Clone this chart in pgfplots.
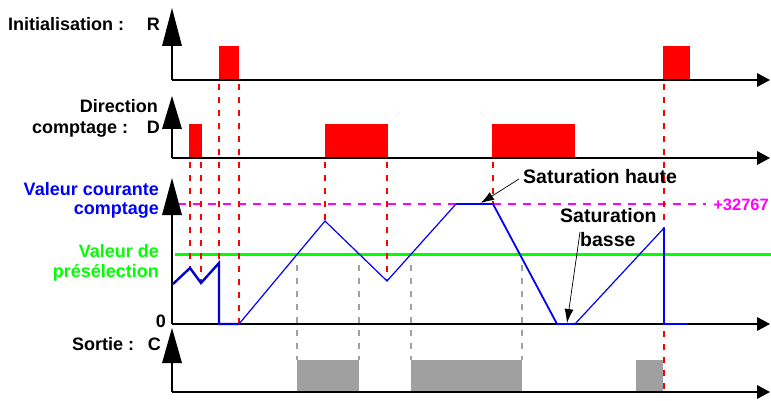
\documentclass[border=0pt]{standalone}
\usepackage{pgfplots}
\pgfplotsset{compat=1.18}
\usetikzlibrary{arrows.meta}
\usepackage{fontspec}
\setmainfont{Liberation Sans}
\definecolor{vert}{RGB}{0,255,0}
\definecolor{gris}{RGB}{160,160,160}
\definecolor{mag}{RGB}{255,0,255}
\definecolor{bleu}{RGB}{0,0,255}
\definecolor{bleuf}{RGB}{0,0,210}
\newcommand\lab{\fontsize{18}{20}\selectfont\bfseries}
\newcommand\labs{\fontsize{19.5}{22}\selectfont\bfseries}
\begin{document}
\begin{tikzpicture}
\begin{axis}[
  scale only axis, width=771pt, height=401pt,
  xmin=0, xmax=771, ymin=0, ymax=401, y dir=reverse,
  hide axis, clip=false,
  reddot/.style={red, line width=2.6pt, dash pattern=on 6pt off 7pt},
  greydot/.style={gris, line width=2.6pt, dash pattern=on 6pt off 7pt},
  ax/.style={black, line width=1.8pt},
  head/.style={fill=black, draw=none},
]
% ---- pulses R
\addplot[fill=red, draw=none] coordinates {(219,80)(219,46)(239,46)(239,80)};
\addplot[fill=red, draw=none] coordinates {(663,80)(663,46)(690,46)(690,80)};
% ---- pulses D
\addplot[fill=red, draw=none] coordinates {(189,158)(189,124)(202,124)(202,158)};
\addplot[fill=red, draw=none] coordinates {(325,158)(325,124)(388,124)(388,158)};
\addplot[fill=red, draw=none] coordinates {(492,158)(492,124)(575,124)(575,158)};
% ---- pulses C
\addplot[fill=gris, draw=none] coordinates {(297,392)(297,360)(359,360)(359,392)};
\addplot[fill=gris, draw=none] coordinates {(411,392)(411,360)(522,360)(522,392)};
\addplot[fill=gris, draw=none] coordinates {(636,392)(636,360)(663,360)(663,392)};
% ---- reference lines
\addplot[vert, line width=3pt] coordinates {(175,254)(771,254)};
\addplot[mag, line width=1.4pt, dash pattern=on 8pt off 7pt] coordinates {(178,204)(706,204)};
% ---- axes
\addplot[ax] coordinates {(172,80)(172,40)};
\addplot[ax] coordinates {(172,80)(760,80)};
\addplot[ax] coordinates {(172,158)(172,125)};
\addplot[ax] coordinates {(172,158)(760,158)};
\addplot[ax] coordinates {(172,324)(172,210)};
\addplot[ax] coordinates {(172,324)(760,324)};
\addplot[ax] coordinates {(172,392)(172,358)};
\addplot[ax] coordinates {(172,392)(760,392)};
% arrow heads (vertical)
\addplot[head] coordinates {(162,46)(172,8)(182,46)};
\addplot[head] coordinates {(162,129)(172,96)(182,129)};
\addplot[head] coordinates {(162,215)(172,178)(182,215)};
\addplot[head] coordinates {(162,363)(172,328)(182,363)};
% arrow heads (horizontal)
\addplot[head] coordinates {(757,73)(770,80)(757,87)};
\addplot[head] coordinates {(757,151)(770,158)(757,165)};
\addplot[head] coordinates {(757,317)(770,324)(757,331)};
\addplot[head] coordinates {(757,385)(770,392)(757,399)};
% ---- dotted lines
\addplot[greydot] coordinates {(297,265)(297,360)};
\addplot[greydot] coordinates {(359,265)(359,360)};
\addplot[greydot] coordinates {(411,265)(411,360)};
\addplot[greydot] coordinates {(522,265)(522,360)};
\addplot[reddot] coordinates {(190,162)(190,268)};
\addplot[reddot] coordinates {(201,162)(201,283)};
\addplot[reddot] coordinates {(219,84)(219,328)};
\addplot[reddot] coordinates {(239,84)(239,328)};
\addplot[reddot] coordinates {(325,162)(325,221)};
\addplot[reddot] coordinates {(387,162)(387,281)};
\addplot[reddot] coordinates {(493,162)(493,204)};
\addplot[reddot] coordinates {(664,84)(664,394)};
% ---- counter value
\addplot[bleuf, line width=2.4pt, line join=miter] coordinates {(173,284)(190,268)(201,283)(219,263)(219,324)(239,324)};
\addplot[bleu, line width=1.2pt] coordinates {(239,324)(325,221)(387,281)(456,204)};
\addplot[bleu, line width=1.8pt] coordinates {(456,204)(493,204)(557,324)(575,324)};
\addplot[bleu, line width=1.2pt] coordinates {(575,324)(664,228)};
\addplot[bleu, line width=2pt] coordinates {(664,228)(664,324)(688,324)};
% ---- annotation arrows
\addplot[black, line width=0.7pt, -{Latex[length=13pt,width=9pt]}] coordinates {(519,179)(481,203)};
\addplot[black, line width=0.7pt, -{Latex[length=14pt,width=9pt]}] coordinates {(580,232)(567,323)};
% ---- texts
\node[anchor=base west, inner sep=0pt] at (axis cs:8,31) {\lab Initialisation :};
\node[anchor=base east, inner sep=0pt] at (axis cs:160,31) {\lab R};
\node[anchor=base east, inner sep=0pt] at (axis cs:158,113) {\lab Direction};
\node[anchor=base west, inner sep=0pt] at (axis cs:32,134) {\lab comptage :};
\node[anchor=base east, inner sep=0pt] at (axis cs:160,134) {\lab D};
\node[anchor=base east, inner sep=0pt, text=bleu] at (axis cs:159,195) {\lab Valeur courante};
\node[anchor=base east, inner sep=0pt, text=bleu] at (axis cs:159,214) {\lab comptage};
\node[anchor=base east, inner sep=0pt, text=vert] at (axis cs:159,257) {\lab Valeur de};
\node[anchor=base east, inner sep=0pt, text=vert] at (axis cs:159,277) {\lab présélection};
\node[anchor=base east, inner sep=0pt] at (axis cs:166,327) {\lab 0};
\node[anchor=base west, inner sep=0pt] at (axis cs:72,350) {\lab Sortie :};
\node[anchor=base east, inner sep=0pt] at (axis cs:161,350) {\lab C};
\node[anchor=base west, inner sep=0pt] at (axis cs:523,183) {\labs Saturation haute};
\node[anchor=base west, inner sep=0pt] at (axis cs:560,222) {\labs Saturation};
\node[anchor=base west, inner sep=0pt] at (axis cs:580,246) {\labs basse};
\node[anchor=base east, inner sep=0pt, text=mag] at (axis cs:769,210) {\fontsize{16.5}{18}\selectfont\bfseries +32767};
\end{axis}
\pgfresetboundingbox
\useasboundingbox (0,0) rectangle (771pt,401pt);
\end{tikzpicture}
\end{document}
